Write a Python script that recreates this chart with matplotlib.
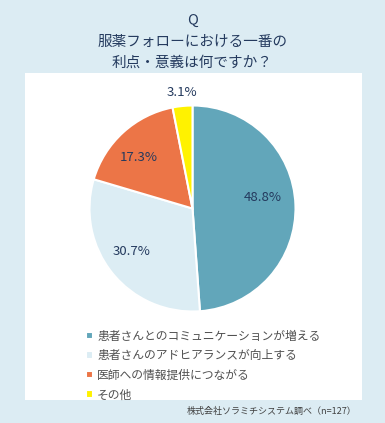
import matplotlib.pyplot as plt
from matplotlib.patches import Rectangle

plt.rcParams['font.family'] = ['Noto Sans CJK JP', 'DejaVu Sans']

# data
labels = ["患者さんとのコミュニケーションが増える",
          "患者さんのアドヒアランスが向上する",
          "医師への情報提供につながる",
          "その他"]
values = [48.8, 30.7, 17.3, 3.1]
colors = ["#62a6ba", "#dcedf4", "#ec7547", "#fff200"]

navy = "#243a5e"
bg = "#dcecf3"

fig = plt.figure(figsize=(3.85, 4.23), dpi=100, facecolor=bg)

# white panel
fig.patches.append(Rectangle((25 / 385, 1 - 400 / 423), 337 / 385, 327 / 423,
                             transform=fig.transFigure, facecolor="white",
                             edgecolor="none", zorder=-5))

# title
fig.text(0.5, 1 - 21 / 423, "Q", ha="center", va="center", fontsize=10.5, color=navy)
fig.text(0.5, 1 - 42 / 423, "服薬フォローにおける一番の", ha="center", va="center",
         fontsize=10.5, color=navy)
fig.text(0.5, 1 - 63 / 423, "利点・意義は何ですか？", ha="center", va="center",
         fontsize=10.5, color=navy)

ax = fig.add_axes([(192.5 - 103) / 385, (423 - 208.5 - 103) / 423, 206 / 385, 206 / 423])
ax.patch.set_alpha(0)
wedges, texts, autotexts = ax.pie(values, colors=colors, startangle=90, counterclock=False,
                                  autopct="%.1f%%", pctdistance=0.66,
                                  wedgeprops=dict(edgecolor="white", linewidth=1.5),
                                  textprops=dict(color=navy, fontsize=9.5))
# label placement like the original (Excel best fit)
label_pos = [(0.68, 0.11), (-0.59, -0.42), (-0.52, 0.50), (-0.10, 1.13)]
for t, p in zip(autotexts, label_pos):
    t.set_position(p)
ax.set_xlim(-1, 1)
ax.set_ylim(-1, 1)
ax.set_aspect("equal")

fig.legend(wedges, labels, loc="upper left",
           bbox_to_anchor=(80 / 385, 1 - 324 / 423), frameon=False,
           fontsize=8.5, labelcolor="#505050", handlelength=0.6, handleheight=0.6,
           handletextpad=0.35, labelspacing=0.55, borderpad=0)

fig.text(356 / 385, 1 - 411 / 423, "株式会社ソラミチシステム調べ（n=127）", ha="right", va="center",
         fontsize=6.5, color="#404040")

plt.savefig("out.png", dpi=100, facecolor=bg)
